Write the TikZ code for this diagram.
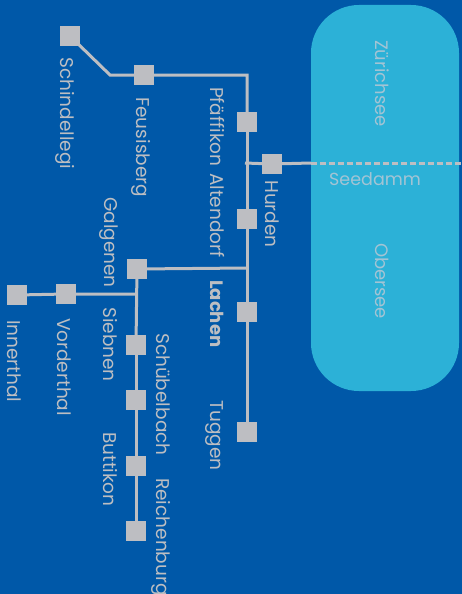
\documentclass[tikz,border=0pt]{standalone}
\usepackage{fontspec}
\setmainfont{Poppins}
\begin{document}
\begin{tikzpicture}[x=1pt,y=-1pt,
  stop/.style={fill=stopgray,minimum size=20pt,inner sep=0pt,outer sep=0pt},
  track/.style={draw=stopgray,line width=3pt},
  lbl/.style={text=stopgray,rotate=-90,anchor=base west,inner sep=0pt,font=\fontsize{18.5}{20}\selectfont},
  lakelbl/.style={text=laketext,rotate=-90,anchor=base west,inner sep=0pt,font=\fontsize{18}{20}\selectfont},
]
\definecolor{bgblue}{HTML}{0058A8}
\definecolor{lakecyan}{HTML}{2CB1D7}
\definecolor{stopgray}{HTML}{BDBEC2}
\definecolor{laketext}{HTML}{A3C4D4}
\fill[bgblue] (0,0) rectangle (462,594);
\useasboundingbox (0,0) rectangle (462,594);
\fill[lakecyan,rounded corners=48pt] (311,5) rectangle (459,391);
% coordinates
\coordinate (bend) at (110,75);
\coordinate (corner) at (247,75);
\coordinate (jh) at (245,163);
\coordinate (damL) at (311,163);
\coordinate (damR) at (462,163);
\coordinate (jg) at (247,268);
\coordinate (jv) at (136,294);
% stops
\node[stop] (schindellegi) at (70,36) {};
\node[stop] (feusisberg) at (144,75) {};
\node[stop] (pfaeffikon) at (247,122) {};
\node[stop] (hurden) at (272,164) {};
\node[stop] (altendorf) at (247,219) {};
\node[stop] (galgenen) at (137,269) {};
\node[stop] (lachen) at (247,312) {};
\node[stop] (tuggen) at (247,432) {};
\node[stop] (innerthal) at (17,295) {};
\node[stop] (vorderthal) at (66,294) {};
\node[stop] (siebnen) at (136,345) {};
\node[stop] (schuebelbach) at (136,400) {};
\node[stop] (buttikon) at (136,466) {};
\node[stop] (reichenburg) at (136,531) {};
% tracks
\draw[track,line join=miter] (schindellegi.center) -- (bend) -- (feusisberg) -- (corner) -- (pfaeffikon);
\draw[track] (pfaeffikon) -- (altendorf);
\draw[track] (altendorf) -- (lachen);
\draw[track] (lachen) -- (tuggen);
\draw[track] (jh) -- (hurden) -- (damL);
\draw[stopgray,line width=3pt,dash pattern=on 6pt off 3pt] (damL) -- (damR);
\draw[track] (jg) -- (galgenen);
\draw[track] (galgenen) -- (siebnen);
\draw[track] (siebnen) -- (schuebelbach);
\draw[track] (schuebelbach) -- (buttikon);
\draw[track] (buttikon) -- (reichenburg);
\draw[track] (jv) -- (vorderthal) -- (innerthal);
% redraw stops on top
\foreach \n in {schindellegi,feusisberg,pfaeffikon,hurden,altendorf,galgenen,lachen,tuggen,innerthal,vorderthal,siebnen,schuebelbach,buttikon,reichenburg}
  \fill[stopgray] (\n.south west) rectangle (\n.north east);
% labels
\node[lbl] (l-schindellegi) at (60,57) {Schindellegi};
\node[lbl] (l-feusisberg) at (136,97) {Feusisberg};
\node[lbl] (l-pfaeffikon) at (210,87) {Pfäffikon};
\node[lbl] (l-altendorf) at (210,173) {Altendorf};
\node[lbl] (l-hurden) at (265,180) {Hurden};
\node[lbl] (l-galgenen) at (104,197) {Galgenen};
\node[lbl,font=\fontsize{18}{20}\selectfont\bfseries] (l-lachen) at (210,280) {Lachen};
\node[lbl] (l-siebnen) at (103,307) {Siebnen};
\node[lbl] (l-schuebelbach) at (156,333) {Schübelbach};
\node[lbl] (l-tuggen) at (210,400) {Tuggen};
\node[lbl] (l-buttikon) at (103,432) {Buttikon};
\node[lbl] (l-reichenburg) at (156,478) {Reichenburg};
\node[lbl] (l-innerthal) at (7,320) {Innerthal};
\node[lbl] (l-vorderthal) at (57,318) {Vorderthal};
\node[lakelbl] (l-zuerichsee) at (375,40) {Zürichsee};
\node[lakelbl] (l-obersee) at (375,243) {Obersee};
\node[text=laketext,anchor=base west,inner sep=0pt,font=\fontsize{17.5}{19}\selectfont] (l-seedamm) at (329,185) {Seedamm};
\end{tikzpicture}
\end{document}
